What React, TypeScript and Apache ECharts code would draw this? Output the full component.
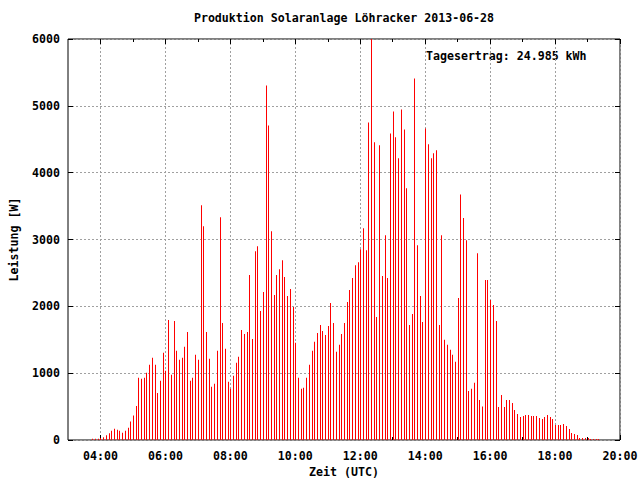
import React, { useEffect, useRef } from "react";
import * as echarts from "echarts";

const chartTitle = "Produktion Solaranlage Löhracker 2013-06-28";
const yieldLabel = "Tagesertrag: 24.985 kWh";
const xAxisName = "Zeit (UTC)";
const yAxisName = "Leistung [W]";

// 5-minute power samples (W), one array per hour
const watts03 = [20, 20, 20]; // 03:45 .. 03:55
const watts04 = [30, 40, 70, 100, 140, 170, 155, 140, 110, 140, 185, 275];
const watts05 = [365, 510, 930, 915, 930, 1005, 1125, 1230, 1125, 705, 885, 1305];
const watts06 = [1035, 1795, 975, 1780, 1335, 1200, 1230, 1395, 1615, 885, 930, 1275];
const watts07 = [1200, 3512, 3200, 1615, 1215, 795, 840, 1335, 3333, 1750, 1365, 870];
const watts08 = [765, 960, 1155, 1245, 1645, 1585, 1615, 2470, 1510, 2825, 2900, 1930];
const watts09 = [2215, 5305, 4705, 3125, 2170, 2470, 2555, 2690, 2440, 2155, 2260, 1990];
const watts10 = [1455, 930, 765, 780, 930, 1125, 1335, 1470, 1600, 1720, 1630, 1570];
const watts11 = [1705, 2050, 1750, 1320, 1425, 1585, 1750, 2065, 2245, 2425, 2615, 2660];
const watts12 = [2855, 3170, 2840, 4750, 6300, 4455, 1840, 4410, 2455, 3065, 2425, 4585];
const watts13 = [4915, 4530, 4215, 4945, 4645, 3765, 1720, 1885, 5410, 2915, 2155, 1765];
const watts14 = [4660, 4425, 4215, 4290, 4335, 1720, 3065, 1500, 1425, 1350, 1275, 1170];
const watts15 = [2125, 3675, 3320, 2990, 735, 765, 855, 2795, 600, 500, 2395, 2395];
const watts16 = [2095, 2020, 1780, 494, 673, 494, 600, 600, 555, 450, 390, 345];
const watts17 = [360, 375, 375, 360, 360, 360, 330, 315, 345, 375, 345, 315];
const watts18 = [225, 225, 225, 240, 210, 165, 105, 90, 75, 30, 30, 30];
const watts19 = [30, 15, 15, 15, 15]; // 19:00 .. 19:20

// [hour, first minute, samples]
const hourBlocks: [number, number, number[]][] = [
  [3, 45, watts03], [4, 0, watts04], [5, 0, watts05], [6, 0, watts06],
  [7, 0, watts07], [8, 0, watts08], [9, 0, watts09], [10, 0, watts10],
  [11, 0, watts11], [12, 0, watts12], [13, 0, watts13], [14, 0, watts14],
  [15, 0, watts15], [16, 0, watts16], [17, 0, watts17], [18, 0, watts18],
  [19, 0, watts19],
];

const xStartHour = 3;
const xEndHour = 20;
const xLabelHours = [4, 6, 8, 10, 12, 14, 16, 18, 20];
const yTicks = [0, 1000, 2000, 3000, 4000, 5000, 6000];

const FONT = "DejaVu Sans Mono";
const FS = 11.6;

export default function App() {
  const ref = useRef<HTMLDivElement>(null);
  useEffect(() => {
    if (!ref.current) return;
    const chart = echarts.init(ref.current, undefined, { renderer: "svg" });

    const data: [number, number][] = [];
    hourBlocks.forEach(([h, m0, arr]) => {
      arr.forEach((v, i) => data.push([h + (m0 + 5 * i) / 60, v]));
    });

    const plotLeft = 68, plotRight = 620, plotTop = 39, plotBottom = 440;
    const hourW = (plotRight - plotLeft) / (xEndHour - xStartHour);
    const labelGridLeft = plotLeft + (xLabelHours[0] - xStartHour) * hourW;

    const textBase = { fontFamily: FONT, fontSize: FS, fontWeight: "bold" as const, color: "#000" };
    const dashed = { color: "#a0a0a0", width: 1, type: [2, 2] as any };
    const yMin = yTicks[0], yMax = yTicks[yTicks.length - 1], yInt = yTicks[1] - yTicks[0];
    const xMin = xLabelHours[0], xMax = xLabelHours[xLabelHours.length - 1], xInt = xLabelHours[1] - xLabelHours[0];
    const fmt = (v: number) => String(v).padStart(2, "0") + ":00";

    chart.setOption({
      animation: false,
      backgroundColor: "#fff",
      grid: [
        { left: plotLeft, right: 640 - plotRight, top: plotTop, bottom: 480 - plotBottom, show: true, borderColor: "#000", borderWidth: 1, backgroundColor: "transparent", containLabel: false, outerBoundsMode: "none" },
        { left: labelGridLeft, right: 640 - plotRight, top: plotTop, bottom: 480 - plotBottom, show: false, containLabel: false, outerBoundsMode: "none" },
      ],
      xAxis: [
        {
          type: "value", gridIndex: 0, min: xStartHour, max: xEndHour, position: "bottom",
          axisLine: { show: false }, axisTick: { show: false }, axisLabel: { show: false }, splitLine: { show: false },
          name: xAxisName, nameLocation: "middle", nameGap: 26, nameTextStyle: { ...textBase },
        },
        {
          type: "value", gridIndex: 1, min: xMin, max: xMax, interval: xInt, position: "bottom",
          axisLine: { show: false },
          axisTick: { show: true, inside: true, length: 5, lineStyle: { color: "#000" } },
          minorTick: { show: true, splitNumber: 2, length: 3, lineStyle: { color: "#000" } },
          axisLabel: { ...textBase, margin: 10, formatter: fmt },
          splitLine: { show: true, lineStyle: dashed },
        },
        {
          type: "value", gridIndex: 1, min: xMin, max: xMax, interval: xInt, position: "top",
          axisLine: { show: false },
          axisTick: { show: true, inside: true, length: 5, lineStyle: { color: "#000" } },
          minorTick: { show: true, splitNumber: 2, length: 3, lineStyle: { color: "#000" } },
          axisLabel: { show: false }, splitLine: { show: false },
        },
      ],
      yAxis: [
        {
          type: "value", gridIndex: 0, min: yMin, max: yMax, interval: yInt, position: "left",
          axisLine: { show: false },
          axisTick: { show: true, inside: true, length: 5, lineStyle: { color: "#000" } },
          axisLabel: { ...textBase, margin: 8, formatter: (v: number) => String(v) },
          splitLine: { show: true, lineStyle: dashed },
          name: yAxisName, nameLocation: "middle", nameGap: 48, nameTextStyle: { ...textBase },
        },
        {
          type: "value", gridIndex: 0, min: yMin, max: yMax, interval: yInt, position: "right",
          axisLine: { show: false },
          axisTick: { show: true, inside: true, length: 5, lineStyle: { color: "#000" } },
          axisLabel: { show: false }, splitLine: { show: false },
        },
        { type: "value", gridIndex: 1, min: yMin, max: yMax, show: false },
      ],
      graphic: [
        { type: "text", x: (plotLeft + plotRight) / 2, y: 18, style: { text: chartTitle, font: `bold ${FS}px "${FONT}"`, fill: "#000", textAlign: "center", textVerticalAlign: "middle" } as any },
        { type: "text", x: 426, y: 56, style: { text: yieldLabel, font: `bold ${FS}px "${FONT}"`, fill: "#000", textAlign: "left", textVerticalAlign: "middle" } as any },
      ],
      series: [
        {
          type: "custom", xAxisIndex: 0, yAxisIndex: 0, data, clip: true, silent: true,
          renderItem: (params: any, api: any) => {
            const top = api.coord([api.value(0), api.value(1)]);
            const base = api.coord([api.value(0), 0]);
            const x = Math.round(top[0]);
            const rect = { x, y: top[1], width: 1, height: base[1] - top[1] };
            const clipped = echarts.graphic.clipRectByRect(rect, {
              x: params.coordSys.x, y: params.coordSys.y,
              width: params.coordSys.width, height: params.coordSys.height,
            });
            return clipped && { type: "rect", shape: clipped, style: { fill: "#ff0000" } };
          },
        },
      ],
    });
    return () => chart.dispose();
  }, []);
  return <div ref={ref} style={{ position: "absolute", left: 0, top: 0, width: 640, height: 480 }} />;
}
